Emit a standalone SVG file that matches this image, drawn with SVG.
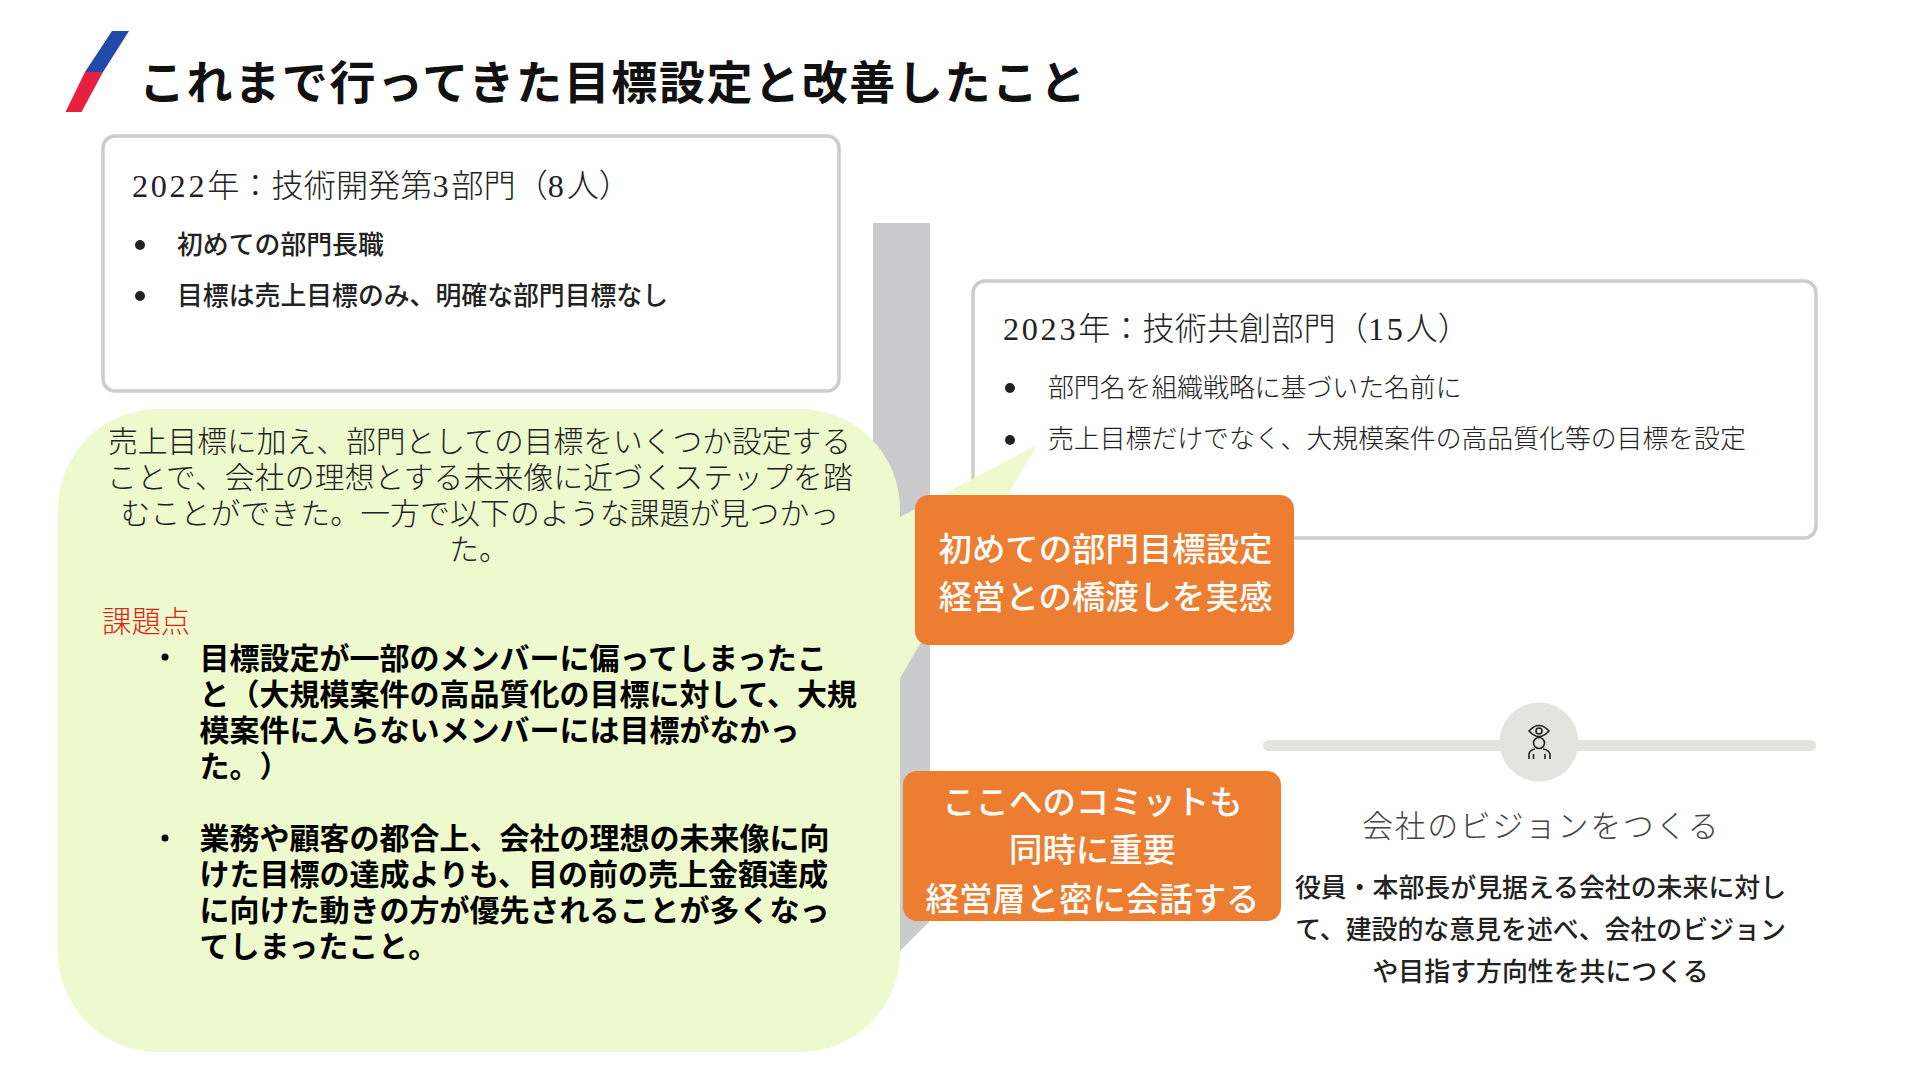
<svg xmlns="http://www.w3.org/2000/svg" width="1920" height="1080" viewBox="0 0 1920 1080">
<style>
text{font-family:"Noto Sans CJK JP","Noto Sans",sans-serif;fill:#222;text-spacing-trim:space-all}
.box{fill:#fff;stroke:#cdcdc8;stroke-width:3.5}
.head{font-family:"Liberation Serif","Noto Sans CJK JP",serif;font-size:32.2px;font-weight:300;fill:#222}
.n{letter-spacing:2.7px}
.li{font-size:25.85px;font-weight:500}
.lil{font-size:25.85px;font-weight:300}
.body{font-size:29.75px;font-weight:300;text-anchor:middle}
.wide{letter-spacing:.2px}
.b{font-size:30px;font-weight:700;fill:#000}
.o{font-size:33.4px;font-weight:500;fill:#fff;text-anchor:middle}
.orange{fill:#ed7d31}
.d{font-size:25.9px;font-weight:500;text-anchor:middle}
.dot{fill:#222}
.ic{fill:none;stroke:#222;stroke-width:1.6}
</style>
<rect width="1920" height="1080" fill="#fff"/>
<g id="logo">
<polygon points="112,31 129,31 103,72 85,72" fill="#2049aa"/>
<polygon points="85,72 103,72 81.5,112 65.5,112" fill="#e8203f"/>
</g>
<text id="title" x="139" y="99" font-size="46" font-weight="700" letter-spacing="1.6" style="fill:#111">これまで行ってきた目標設定と改善したこと</text>
<g id="connectors">
<polygon points="873,223 930,223 930,921 900,951 873,951" fill="#cbcbcd"/>
</g>
<g id="box-2022">
<rect class="box" x="103" y="136" width="736" height="255" rx="12"/>
<text class="head" x="132" y="197"><tspan class="n">2022</tspan>年：技術開発第<tspan class="n">3</tspan>部門（<tspan class="n">8</tspan>人）</text>
<circle class="dot" cx="140" cy="245" r="5"/>
<text class="li" x="177" y="254">初めての部門長職</text>
<circle class="dot" cx="140" cy="296" r="5"/>
<text class="li" x="177" y="305">目標は売上目標のみ、明確な部門目標なし</text>
</g>
<g id="box-2023">
<rect class="box" x="973" y="281" width="843" height="257" rx="12"/>
<text class="head" x="1003" y="340"><tspan class="n">2023</tspan>年：技術共創部門（<tspan class="n">15</tspan>人）</text>
<circle class="dot" cx="1010" cy="388" r="5"/>
<text class="lil" x="1048" y="397">部門名を組織戦略に基づいた名前に</text>
<circle class="dot" cx="1010" cy="440" r="5"/>
<text class="lil" x="1048" y="448">売上目標だけでなく、大規模案件の高品質化等の目標を設定</text>
</g>
<g id="callout">
<path d="M158,409 H800 A100,100 0 0 1 900,509 V517 L1037,445 L900,678 V952 A100,100 0 0 1 800,1052 H158 A100,100 0 0 1 58,952 V509 A100,100 0 0 1 158,409 Z" fill="#eef9cd"/>
<text class="body" x="479.5" y="452">売上目標に加え、部門としての目標をいくつか設定する</text>
<text class="body wide" x="480" y="488">ことで、会社の理想とする未来像に近づくステップを踏</text>
<text class="body wide" x="480" y="524">むことができた。一方で以下のような課題が見つかっ</text>
<text class="body" x="479" y="560">た。</text>
<text x="102" y="632" font-size="29.4" font-weight="300" style="fill:#d9261c">課題点</text>
<circle cx="165" cy="657" r="3.5" fill="#000"/>
<text class="b" x="199.5" y="669">目標設定が一部のメンバーに偏ってしまったこ</text>
<text class="b" x="199.5" y="705">と（大規模案件の高品質化の目標に対して、大規</text>
<text class="b" x="199.5" y="741">模案件に入らないメンバーには目標がなかっ</text>
<text class="b" x="199.5" y="777">た。）</text>
<circle cx="165" cy="838" r="3.5" fill="#000"/>
<text class="b" x="199.5" y="849">業務や顧客の都合上、会社の理想の未来像に向</text>
<text class="b" x="199.5" y="885">けた目標の達成よりも、目の前の売上金額達成</text>
<text class="b" x="199.5" y="921">に向けた動きの方が優先されることが多くなっ</text>
<text class="b" x="199.5" y="957">てしまったこと。</text>
</g>
<g id="badge-1">
<rect class="orange" x="915" y="495" width="379" height="150" rx="14"/>
<text class="o" x="1105.5" y="561">初めての部門目標設定</text>
<text class="o" x="1105.5" y="609">経営との橋渡しを実感</text>
</g>
<g id="badge-2">
<rect class="orange" x="903" y="771" width="378" height="150" rx="14"/>
<text class="o" x="1092.5" y="814">ここへのコミットも</text>
<text class="o" x="1092.5" y="862">同時に重要</text>
<text class="o" x="1092.5" y="911">経営層と密に会話する</text>
</g>
<g id="vision">
<rect x="1263" y="740" width="553" height="11" rx="5.5" fill="#e3e4df"/>
<circle cx="1539" cy="742" r="39.5" fill="#e3e4df"/>
<g class="ic">
<path d="M1529,731 Q1539,720 1549,731 Q1539,742 1529,731 Z"/>
<circle cx="1539" cy="731" r="3"/>
<circle cx="1539" cy="743" r="5.5"/>
<path d="M1529,759 V754 Q1530,750 1535,749 M1543,749 Q1549,750 1550,754 V759 M1533.5,759 V754 M1545,759 V754"/>
</g>
<text x="1541" y="837" font-size="31" font-weight="300" letter-spacing="1.6" text-anchor="middle" style="fill:#444">会社のビジョンをつくる</text>
<text class="d" x="1540.5" y="896.5">役員・本部長が見据える会社の未来に対し</text>
<text class="d" x="1540.5" y="938.5">て、建設的な意見を述べ、会社のビジョン</text>
<text class="d" x="1540.5" y="980.5">や目指す方向性を共につくる</text>
</g>
</svg>
